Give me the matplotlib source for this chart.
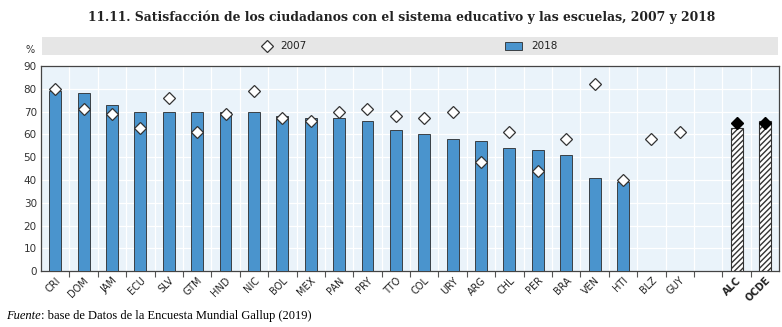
import matplotlib
matplotlib.use("Agg")
import matplotlib.pyplot as plt
from matplotlib.patches import Rectangle
from matplotlib.lines import Line2D
import numpy as np

categories = ["CRI", "DOM", "JAM", "ECU", "SLV", "GTM", "HND", "NIC", "BOL", "MEX",
              "PAN", "PRY", "TTO", "COL", "URY", "ARG", "CHL", "PER", "BRA", "VEN",
              "HTI", "BLZ", "GUY", "", "ALC", "OCDE"]
v2018 = [79, 78, 73, 70, 70, 70, 70, 70, 68, 67, 67, 66, 62, 60, 58, 57, 54, 53, 51, 41,
         39, None, None, None, 63, 66]
v2007 = [80, 71, 69, 63, 76, 61, 69, 79, 67, 66, 70, 71, 68, 67, 70, 48, 61, 44, 58, 82,
         40, 58, 61, None, 65, 65]
aggregates = ["ALC", "OCDE"]
yticks = [0, 10, 20, 30, 40, 50, 60, 70, 80, 90]

plt.rcParams['font.family'] = ['DejaVu Sans']

fig = plt.figure(figsize=(7.82, 3.27), dpi=100)
ax = fig.add_axes([0.0524, 0.171, 0.944, 0.627])
ax.set_facecolor("#eaf3fa")

x = np.arange(len(categories))
bar_color = "#4a94cd"
for i, (c, v) in enumerate(zip(categories, v2018)):
    if v is None:
        continue
    if c in aggregates:
        ax.bar(i, v, width=0.42, color="white", edgecolor="#333333", hatch="//////",
               linewidth=0.8, zorder=3)
    else:
        ax.bar(i, v, width=0.42, color=bar_color, edgecolor="#2b2b2b", linewidth=0.6, zorder=3)

for i, (c, v) in enumerate(zip(categories, v2007)):
    if v is None:
        continue
    if c in aggregates:
        ax.plot(i, v, marker="D", ms=6, mfc="black", mec="black", zorder=4, ls="none")
    else:
        ax.plot(i, v, marker="D", ms=6.5, mfc="white", mec="#333333", mew=0.9, zorder=4, ls="none")

ax.set_xlim(-0.5, len(categories) - 0.5)
ax.set_ylim(0, 90)
ax.set_yticks(yticks)
ax.tick_params(axis="y", length=0, labelsize=7.5, colors="#333333", pad=3)

# grid
for yv in yticks[1:]:
    ax.axhline(yv, color="white", lw=0.9, zorder=1)
for b in np.arange(0.5, len(categories) - 1, 1):
    ax.axvline(b, color="white", lw=0.9, zorder=1)

ax.set_xticks(np.arange(0.5, len(categories) - 1, 1), minor=False)
ax.set_xticklabels([])
ax.tick_params(axis="x", which="major", length=4, direction="out", color="#555555", width=0.8)
ax.set_xticks(x, minor=True)
ax.set_xticklabels(categories, minor=True, rotation=45, ha="right", va="top",
                   rotation_mode="anchor", fontsize=7, color="#222222")
ax.tick_params(axis="x", which="minor", length=0, pad=3)
for lab in ax.get_xticklabels(minor=True):
    if lab.get_text() in aggregates:
        lab.set_fontweight("bold")

for s in ax.spines.values():
    s.set_color("#444444")
    s.set_linewidth(0.9)

# title (serif bold, fitted to reference width)
title = fig.text(0.514, 0.948,
                 "11.11. Satisfacción de los ciudadanos con el sistema educativo y las escuelas, 2007 y 2018",
                 ha="center", va="center", fontsize=10, fontweight="bold", color="#222222",
                 family="DejaVu Serif")
fig.canvas.draw()
w = title.get_window_extent().width
title.set_fontsize(10 * 628 / w)

# legend bar
fig.patches.append(Rectangle((0.0537, 0.832), 0.941, 0.055, transform=fig.transFigure,
                             facecolor="#e6e6e6", edgecolor="none"))
fig.text(0.032, 0.847, "%", fontsize=7, ha="left", va="center", color="#333333")
fig.lines.append(Line2D([0.341], [0.859], marker="D", ms=6, mfc="white", mec="#333333", mew=0.9,
                        transform=fig.transFigure))
fig.text(0.359, 0.859, "2007", fontsize=7.5, va="center", ha="left", color="#222222")
fig.patches.append(Rectangle((0.646, 0.847), 0.0217, 0.026, transform=fig.transFigure,
                             facecolor=bar_color, edgecolor="#2b2b2b", linewidth=0.6))
fig.text(0.679, 0.859, "2018", fontsize=7.5, va="center", ha="left", color="#222222")

# source
t1 = fig.text(0.008, 0.034, "Fuente", fontsize=9, style="italic", family="Liberation Serif",
              ha="left", va="center")
fig.canvas.draw()
bb = t1.get_window_extent()
x2 = bb.x1 / fig.bbox.width
fig.text(x2, 0.034, ": base de Datos de la Encuesta Mundial Gallup (2019)", fontsize=9,
         family="Liberation Serif", ha="left", va="center")

fig.savefig("out.png", dpi=100)
